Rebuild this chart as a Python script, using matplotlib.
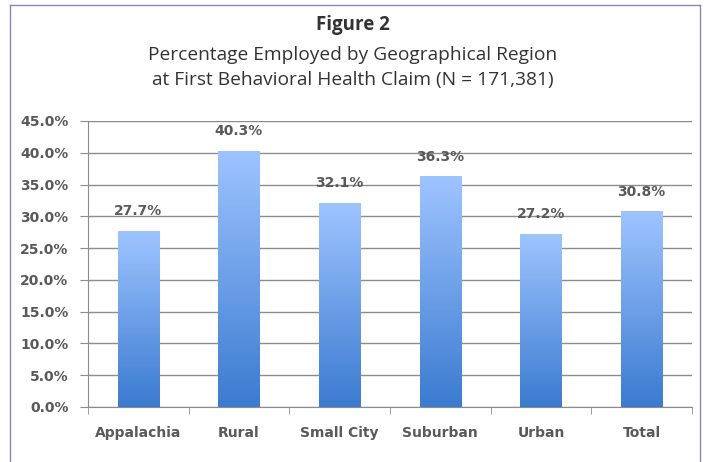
import numpy as np
import matplotlib.pyplot as plt
from matplotlib.patches import Rectangle
from matplotlib.lines import Line2D
from matplotlib.colors import LinearSegmentedColormap

categories = ['Appalachia', 'Rural', 'Small City', 'Suburban', 'Urban', 'Total']
values = [27.7, 40.3, 32.1, 36.3, 27.2, 30.8]
yticks = [0, 5, 10, 15, 20, 25, 30, 35, 40, 45]

fig = plt.figure(figsize=(7.06, 4.62), dpi=100)

# frame around the figure
frame_col = '#8a86b8'
fig.add_artist(Line2D([10/706, 10/706], [0, 1 - 5/462], transform=fig.transFigure, color=frame_col, lw=1))
fig.add_artist(Line2D([700/706, 700/706], [0, 1 - 5/462], transform=fig.transFigure, color=frame_col, lw=1))
fig.add_artist(Line2D([10/706, 700/706], [1 - 5/462, 1 - 5/462], transform=fig.transFigure, color=frame_col, lw=1))

fig.text(0.5, 1 - 25/462, 'Figure 2', ha='center', va='center', fontsize=13.5,
         fontweight='bold', family='Open Sans', color='#333333')
fig.text(0.5, 1 - 55/462, 'Percentage Employed by Geographical Region', ha='center', va='center',
         fontsize=13.8, family='Open Sans', color='#333333')
fig.text(0.5, 1 - 80/462, 'at First Behavioral Health Claim (N = 171,381)', ha='center', va='center',
         fontsize=13.8, family='Open Sans', color='#333333')

ax = fig.add_axes([88/706, 55/462, 604/706, 286/462])
x = np.arange(len(categories))
ax.set_xlim(-0.5, len(categories) - 0.5)
ax.set_ylim(0, 45)

cmap = LinearSegmentedColormap.from_list('bar', ['#3b7bd0', '#9ec4ff'])
grad = np.linspace(0, 1, 256).reshape(-1, 1)
w = 0.41
for xi, v in zip(x, values):
    im = ax.imshow(grad, cmap=cmap, origin='lower', aspect='auto',
                   extent=(xi - w/2, xi + w/2, 0, v), zorder=3, vmin=0, vmax=1)
    rect = Rectangle((xi - w/2, 0), w, v, transform=ax.transData, fill=False, lw=0)
    ax.add_patch(rect)
    im.set_clip_path(rect)
    ax.text(xi, v + 2.0, f'{v:.1f}%', ha='center', va='bottom', fontsize=10,
            fontweight='bold', color='#595959', zorder=4)

ax.set_xlim(-0.5, len(categories) - 0.5)
ax.set_ylim(0, 45)
ax.set_yticks(yticks)
ax.set_yticklabels([f'{t:.1f}%' for t in yticks])
ax.yaxis.grid(True, color='#8c8c8c', lw=1)
ax.set_axisbelow(True)

ax.set_xticks(x)
ax.set_xticklabels(categories)
ax.set_xticks(np.arange(-0.5, len(categories)), minor=True)
ax.tick_params(axis='x', which='major', length=0, pad=14)
ax.tick_params(axis='x', which='minor', length=5, color='#8c8c8c')
ax.tick_params(axis='y', length=6, color='#8c8c8c', pad=8)
for lab in ax.get_xticklabels() + ax.get_yticklabels():
    lab.set_fontsize(10)
    lab.set_fontweight('bold')
    lab.set_color('#595959')

for s in ['top', 'right']:
    ax.spines[s].set_visible(False)
for s in ['left', 'bottom']:
    ax.spines[s].set_color('#8c8c8c')

fig.savefig('out.png', dpi=100)
